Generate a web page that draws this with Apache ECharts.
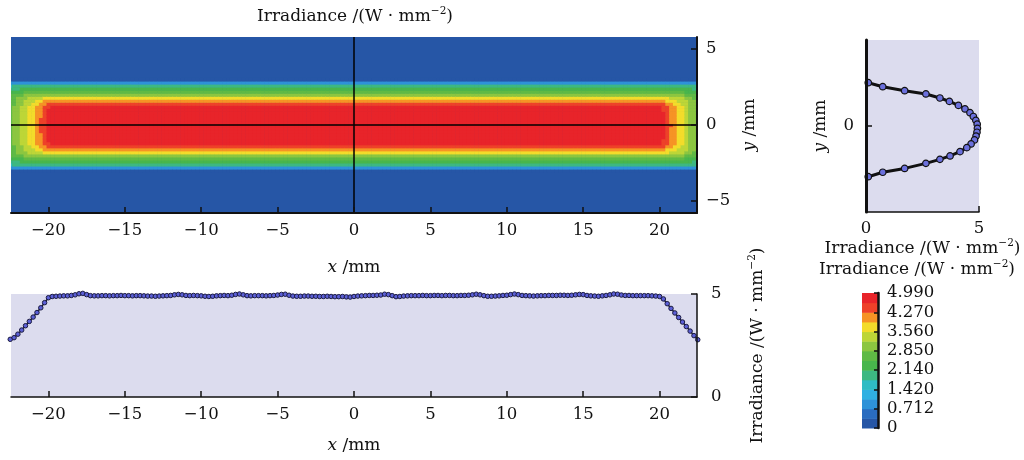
<!DOCTYPE html>
<html>
<head>
<meta charset="utf-8">
<title>Irradiance</title>
<script src="https://cdn.jsdelivr.net/npm/echarts@6/dist/echarts.min.js"></script>
<style>
html, body { margin: 0; padding: 0; background: #fff; }
#chart { width: 1024px; height: 460px; }
</style>
</head>
<body>
<div id="chart"></div>
<script>
//---------------------------Data---------------------------
//ticks
const xTicks = [-20, -15, -10, -5, 0, 5, 10, 15, 20];
const heatYTicks = [-5, 0, 5];
const irrTicks = [0, 5];
const profileYTicks = [0];
const colorbarTicks = [0, 0.712, 1.42, 2.14, 2.85, 3.56, 4.27, 4.99];
const colorbarLabels = ['0', '0.712', '1.420', '2.140', '2.850', '3.560', '4.270', '4.990'];

//irradiance along x at y = 0 (lower plot), x from -22.5 mm, 0.25 mm apart
const xStart = -22.5;
const xStep = 0.25;
const profileX = [
    2.80, 2.88, 3.05, 3.25, 3.46, 3.67, 3.88, 4.10, 4.33, 4.58,
    4.82, 4.88, 4.89, 4.90, 4.91, 4.91, 4.93, 4.96, 5.01, 5.03,
    4.97, 4.92, 4.91, 4.91, 4.92, 4.92, 4.91, 4.92, 4.92, 4.93,
    4.92, 4.92, 4.91, 4.92, 4.92, 4.91, 4.90, 4.90, 4.89, 4.90,
    4.91, 4.92, 4.93, 4.96, 4.98, 4.96, 4.93, 4.92, 4.93, 4.92,
    4.91, 4.89, 4.88, 4.89, 4.91, 4.92, 4.93, 4.92, 4.94, 4.98,
    5.00, 4.96, 4.92, 4.91, 4.92, 4.92, 4.92, 4.91, 4.92, 4.93,
    4.95, 4.98, 4.99, 4.94, 4.90, 4.89, 4.89, 4.90, 4.90, 4.89,
    4.89, 4.88, 4.88, 4.89, 4.88, 4.87, 4.87, 4.88, 4.86, 4.85,
    4.88, 4.90, 4.91, 4.92, 4.93, 4.93, 4.94, 4.95, 4.99, 4.97,
    4.92, 4.87, 4.88, 4.90, 4.91, 4.92, 4.92, 4.92, 4.93, 4.92,
    4.92, 4.93, 4.93, 4.92, 4.93, 4.93, 4.92, 4.92, 4.93, 4.93,
    4.94, 4.96, 4.99, 4.96, 4.92, 4.89, 4.89, 4.90, 4.91, 4.93,
    4.94, 4.97, 5.00, 4.97, 4.93, 4.92, 4.91, 4.90, 4.91, 4.92,
    4.92, 4.93, 4.93, 4.93, 4.94, 4.94, 4.93, 4.94, 4.96, 4.98,
    4.97, 4.93, 4.91, 4.90, 4.89, 4.91, 4.93, 4.96, 5.00, 4.99,
    4.95, 4.93, 4.93, 4.92, 4.92, 4.92, 4.92, 4.92, 4.91, 4.90,
    4.88, 4.76, 4.53, 4.30, 4.08, 3.86, 3.64, 3.42, 3.20, 2.98, 2.78
];

//irradiance along y at x = 0 (right plot)
const profileYPos = [2.92, 2.65, 2.38, 2.16, 1.89, 1.66, 1.39, 1.15, 0.90, 0.64, 0.38, 0.12, -0.16,
    -0.42, -0.68, -0.94, -1.21, -1.46, -1.73, -2.02, -2.25, -2.52, -2.86, -3.12, -3.42];
const profileYIrr = [0.10, 0.74, 1.71, 2.65, 3.27, 3.69, 4.09, 4.38, 4.60, 4.75, 4.86, 4.92, 4.93,
    4.91, 4.87, 4.80, 4.65, 4.46, 4.16, 3.72, 3.27, 2.65, 1.71, 0.74, 0.10];

const bandStart = -3.0;
const bandStep = 0.2;
const bandProfile = [0.20, 0.95, 1.85, 2.25, 2.65, 3.20, 3.75, 4.10, 4.50, 4.75, 4.80, 4.84, 4.88, 4.91, 4.93,
    4.95, 4.93, 4.91, 4.88, 4.84, 4.80, 4.75, 4.50, 4.10, 3.75, 3.20, 2.65, 2.25, 1.85, 0.95, 0.20];

//colour levels of the map, low to high
const colorbarMax = 4.99;
const levelColors = ['#2656a6', '#2a6cc0', '#2e92d8', '#30b0e2', '#2fbcc4', '#3db882', '#48b64c',
    '#5fba45', '#8cc640', '#bdd637', '#f3dc2a', '#f69325', '#ee4129', '#e8242a'];

//---------------------------Build---------------------------
const serif = 'DejaVu Serif';
const ink = '#111';

let lineX = [];
for (let i = 0; i < profileX.length; i++) {
    lineX.push([xStart + i * xStep, profileX[i]]);
}

let lineY = [];
for (let i = 0; i < profileYPos.length; i++) {
    lineY.push([profileYIrr[i], profileYPos[i]]);
}

//map cell from the two cross-sections (soft minimum, keeps the rounded ends)
function combine(a, b) {
    let p = 4;
    let r = Math.pow(colorbarMax / a, p) + Math.pow(colorbarMax / b, p) - 1;
    return colorbarMax * Math.pow(r, -1 / p);
}

let heatData = [];
for (let i = 0; i < profileX.length; i++) {
    for (let j = 0; j < bandProfile.length; j++) {
        heatData.push([xStart + i * xStep, bandStart + j * bandStep, combine(profileX[i], bandProfile[j])]);
    }
}

let levelBounds = [];
for (let k = 0; k <= levelColors.length; k++) {
    levelBounds.push(colorbarMax * k / levelColors.length);
}
let pieces = [];
for (let k = 0; k < levelColors.length; k++) {
    pieces.push({
        gte: k === 0 ? -1 : levelBounds[k],
        lt: k === levelColors.length - 1 ? 100 : levelBounds[k + 1],
        color: levelColors[k]
    });
}

//---------------------------Style---------------------------
const rich = {
    t: {fontFamily: serif, fontSize: 17, color: ink, fill: ink, lineHeight: 22},
    i: {fontFamily: serif, fontSize: 17, fontStyle: 'italic', color: ink, fill: ink, lineHeight: 22},
    s: {fontFamily: serif, fontSize: 10.5, color: ink, fill: ink, verticalAlign: 'top'}
};
const irrName = '{t|Irradiance /(W · mm}{s|−2}{t|)}';
const xName = '{i|x}{t| /mm}';
const yName = '{i|y}{t| /mm}';

function minusFormat(v) {
    return v < 0 ? '−' + Math.abs(v) : String(v);
}

function axis(gridIndex, min, max, ticks, position, name, nameGap, lineWidth) {
    return {
        type: 'value',
        gridIndex: gridIndex,
        position: position,
        min: min,
        max: max,
        name: name,
        nameLocation: 'middle',
        nameGap: nameGap,
        nameRotate: (position === 'left' || position === 'right') ? 90 : 0,
        nameTextStyle: {fontFamily: serif, fontSize: 17, color: ink, rich: rich},
        axisLine: {show: true, onZero: false, lineStyle: {color: ink, width: lineWidth}},
        axisTick: {show: true, inside: true, length: 6, customValues: ticks, lineStyle: {color: ink, width: 1.5}},
        axisLabel: {customValues: ticks, color: ink, fontFamily: serif, fontSize: 16.5, margin: 9, formatter: minusFormat},
        splitLine: {show: false},
        z: 5
    };
}

//one map cell, cut to the grid
function renderCell(params, api) {
    let p = api.coord([api.value(0) - xStep / 2, api.value(1) + bandStep / 2]);
    let s = api.size([xStep, bandStep]);
    let shape = echarts.graphic.clipRectByRect(
        {x: p[0], y: p[1], width: s[0] + 0.6, height: s[1] + 0.6},
        {x: params.coordSys.x, y: params.coordSys.y, width: params.coordSys.width, height: params.coordSys.height}
    );
    if (!shape) {
        return null;
    }
    return {type: 'rect', shape: shape, style: {fill: api.visual('color')}};
}

//one step of the colour bar
function renderLevel(params, api) {
    let k = params.dataIndex;
    let p = api.coord([0, levelBounds[k + 1]]);
    let q = api.coord([1, levelBounds[k]]);
    return {
        type: 'rect',
        shape: {x: p[0], y: p[1], width: q[0] - p[0], height: q[1] - p[1] + 0.5},
        style: {fill: levelColors[k]}
    };
}

//---------------------------Chart---------------------------
let chart = echarts.init(document.getElementById('chart'));

let xAxes = [
    axis(0, -22.45, 22.45, xTicks, 'bottom', xName, 44, 2),
    axis(1, -22.45, 22.45, xTicks, 'bottom', xName, 38, 1.5),
    axis(2, 0, 5, irrTicks, 'bottom', irrName, 24, 1.5),
    {type: 'value', gridIndex: 3, min: 0, max: 1, show: false}
];
xAxes[2].axisLabel.margin = 8;

let yAxes = [
    axis(0, -5.8, 5.8, heatYTicks, 'right', yName, 27, 2),
    axis(1, 0, 5, irrTicks, 'right', irrName, 50, 1.5),
    axis(2, -5.8, 5.8, profileYTicks, 'left', yName, 34, 3),
    axis(3, 0, colorbarMax, colorbarTicks, 'right', '', 0, 2.5)
];
yAxes[1].axisLabel.margin = 14;
yAxes[2].axisLabel.margin = 12;
yAxes[3].axisTick.length = 4;
yAxes[3].axisLabel.margin = 9;
yAxes[3].axisLabel.formatter = function (v) {
    let k = colorbarTicks.indexOf(v);
    return k < 0 ? String(v) : colorbarLabels[k];
};

let option = {
    animation: false,
    backgroundColor: '#fff',
    grid: [
        {left: 11, top: 37, width: 686, height: 176, show: true, backgroundColor: levelColors[0], borderWidth: 0},
        {left: 11, top: 294, width: 686, height: 103, show: true, backgroundColor: '#dcdcee', borderWidth: 0},
        {left: 866, top: 40, width: 113, height: 172, show: true, backgroundColor: '#dcdcee', borderWidth: 0},
        {left: 862, top: 293, width: 16, height: 135, show: false}
    ],
    xAxis: xAxes,
    yAxis: yAxes,
    visualMap: {
        type: 'piecewise',
        show: false,
        seriesIndex: 0,
        dimension: 2,
        pieces: pieces
    },
    graphic: [
        {type: 'text', x: 355, y: 17, style: {text: irrName, rich: rich, align: 'center', verticalAlign: 'middle'}},
        {type: 'text', x: 917, y: 270, style: {text: irrName, rich: rich, align: 'center', verticalAlign: 'middle'}}
    ],
    series: [
        {
            type: 'custom',
            xAxisIndex: 0,
            yAxisIndex: 0,
            data: heatData,
            encode: {x: 0, y: 1},
            renderItem: renderCell,
            silent: true,
            markLine: {
                silent: true,
                symbol: 'none',
                label: {show: false},
                lineStyle: {color: '#000', width: 1.5, type: 'solid'},
                data: [{xAxis: 0}, {yAxis: 0}]
            }
        },
        {
            type: 'line',
            xAxisIndex: 1,
            yAxisIndex: 1,
            data: lineX,
            clip: false,
            symbol: 'circle',
            symbolSize: 4.5,
            lineStyle: {color: '#15152a', width: 1.5},
            itemStyle: {color: '#5b5fd6', borderColor: '#1a1a40', borderWidth: 1},
            silent: true
        },
        {
            type: 'line',
            xAxisIndex: 2,
            yAxisIndex: 2,
            data: lineY,
            clip: false,
            symbol: 'circle',
            symbolSize: 6.5,
            lineStyle: {color: '#111', width: 3},
            itemStyle: {color: '#6b70dc', borderColor: '#111', borderWidth: 1.2},
            silent: true
        },
        {
            type: 'custom',
            xAxisIndex: 3,
            yAxisIndex: 3,
            data: levelColors.map(function (c, k) { return [0.5, levelBounds[k]]; }),
            encode: {x: 0, y: 1},
            renderItem: renderLevel,
            silent: true
        }
    ]
};

chart.setOption(option);
</script>
</body>
</html>
